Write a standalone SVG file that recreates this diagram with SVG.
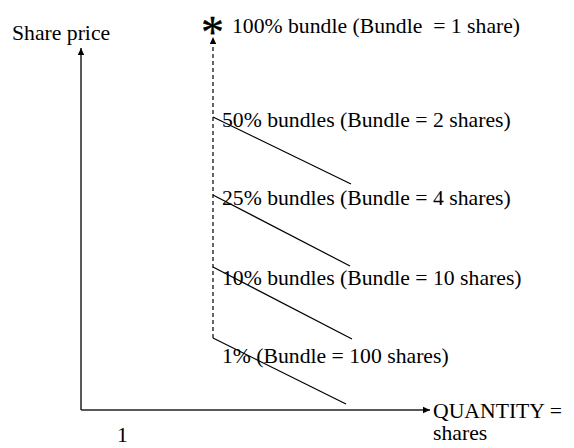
<svg xmlns="http://www.w3.org/2000/svg" width="574" height="448" viewBox="0 0 574 448">
<style>
text{font-family:"Liberation Serif","Times New Roman",serif;font-size:21.7px;fill:#000;white-space:pre}
.axis{stroke:#222;stroke-width:1.5;fill:none}
.dash{stroke:#000;stroke-width:1.2;stroke-dasharray:4 3;fill:none}
.diag{stroke:#000;stroke-width:1.2;fill:none}
.star{font-size:46px;stroke:#000;stroke-width:0.4}
</style>
<defs>
<marker id="arr" markerWidth="8" markerHeight="8" refX="7" refY="4" orient="auto" markerUnits="userSpaceOnUse">
<path d="M0,0.8 L7,4 L0,7.2 Z" fill="#000"/>
</marker>
</defs>
<rect width="574" height="448" fill="#fff"/>
<g id="connectors">
<line class="axis" x1="81" y1="410" x2="81" y2="48" marker-end="url(#arr)"/>
<line class="axis" x1="81" y1="410" x2="430" y2="410" marker-end="url(#arr)"/>
<line class="dash" x1="213" y1="338" x2="213" y2="37" marker-end="url(#arr)"/>
<line class="diag" x1="213" y1="117" x2="351" y2="184"/>
<line class="diag" x1="213" y1="195" x2="350" y2="266"/>
<line class="diag" x1="213" y1="267" x2="352" y2="339"/>
<line class="diag" x1="213" y1="338" x2="346" y2="404"/>
</g>
<g id="axis-labels">
<text x="12" y="40">Share price</text>
<text x="433" y="418">QUANTITY =</text>
<text x="433" y="440">shares</text>
<text x="117" y="442">1</text>
</g>
<g id="node-100">
<text class="star" x="201" y="48">*</text>
<text x="232" y="33" xml:space="preserve">100% bundle (Bundle  = 1 share)</text>
</g>
<g id="node-50"><text x="222" y="127">50% bundles (Bundle = 2 shares)</text></g>
<g id="node-25"><text x="222" y="205">25% bundles (Bundle = 4 shares)</text></g>
<g id="node-10"><text x="222" y="285">10% bundles (Bundle = 10 shares)</text></g>
<g id="node-1"><text x="222" y="363">1% (Bundle = 100 shares)</text></g>
</svg>
